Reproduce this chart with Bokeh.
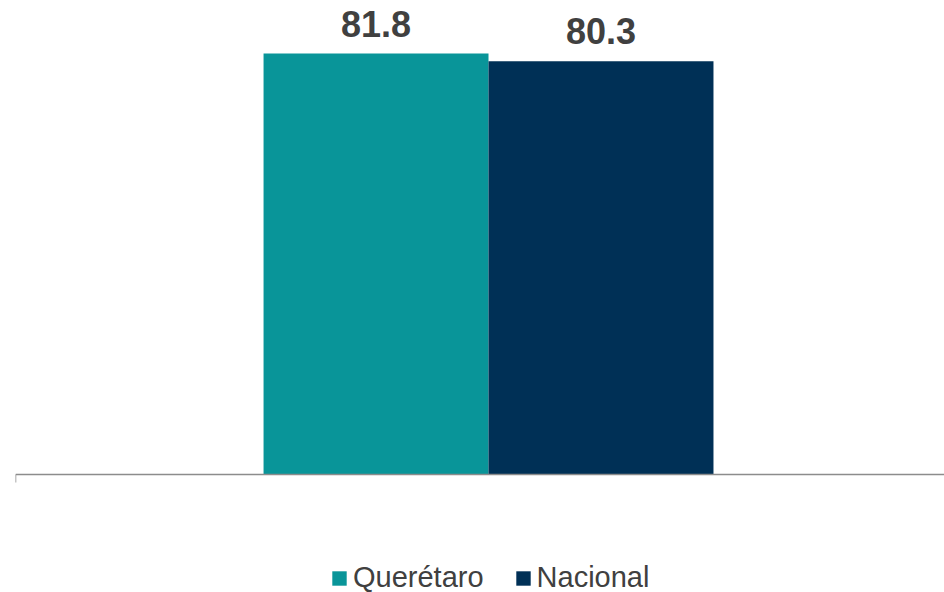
from bokeh.plotting import figure
from bokeh.models import ColumnDataSource, Range1d, FixedTicker, Legend, LegendItem
from bokeh.core.properties import value
from bokeh.embed import file_html
from bokeh.resources import INLINE

# ---- data ----
series = ["Querétaro", "Nacional"]
values = [81.8, 80.3]
colors = ["#099599", "#003056"]
category_index = 0  # single unnamed category

# ---- layout constants ----
bar_w = 0.2378
offsets = [-bar_w / 2, bar_w / 2]
xs = [category_index + o for o in offsets]

src = ColumnDataSource(dict(
    x=xs, top=values, color=colors, series=series,
    label=[f"{v:.1f}" for v in values],
))

p = figure(width=944, height=592, output_backend="svg", toolbar_location=None,
           x_range=Range1d(-0.5, 0.4820), y_range=Range1d(-22.93, 92.1),
           min_border_left=15, min_border_right=0, min_border_top=0, min_border_bottom=0)

r = p.vbar(x="x", top="top", width=bar_w, color="color", line_color=None, source=src)

p.text(x="x", y="top", text="label", source=src, text_align="center",
       text_baseline="bottom", y_offset=-17, text_font=value("Liberation Sans"),
       text_font_style="bold", text_font_size="36px", text_color="#404040")

p.yaxis.visible = False
p.xgrid.visible = False
p.ygrid.visible = False
p.outline_line_color = None

ax = p.xaxis[0]
ax.fixed_location = 0
ax.ticker = FixedTicker(ticks=[-0.5])
ax.major_label_overrides = {-0.5: " "}
ax.major_tick_in = 0
ax.major_tick_out = 8
ax.minor_tick_line_color = None
ax.axis_line_color = "#8c8c8c"
ax.axis_line_width = 1.5
ax.major_tick_line_color = "#8c8c8c"
ax.major_tick_line_width = 1.5

items = [LegendItem(label=s, renderers=[r], index=i) for i, s in enumerate(series)]
legend = Legend(items=items, orientation="horizontal", location=(315, -2),
                glyph_width=18, glyph_height=18, label_standoff=5, spacing=30,
                label_text_font="Liberation Sans", label_text_font_size="29px",
                label_text_color="#404040", padding=0, margin=0,
                border_line_color=None, background_fill_alpha=0)
p.add_layout(legend, "center")

open("out.html", "w").write(file_html(p, INLINE))
